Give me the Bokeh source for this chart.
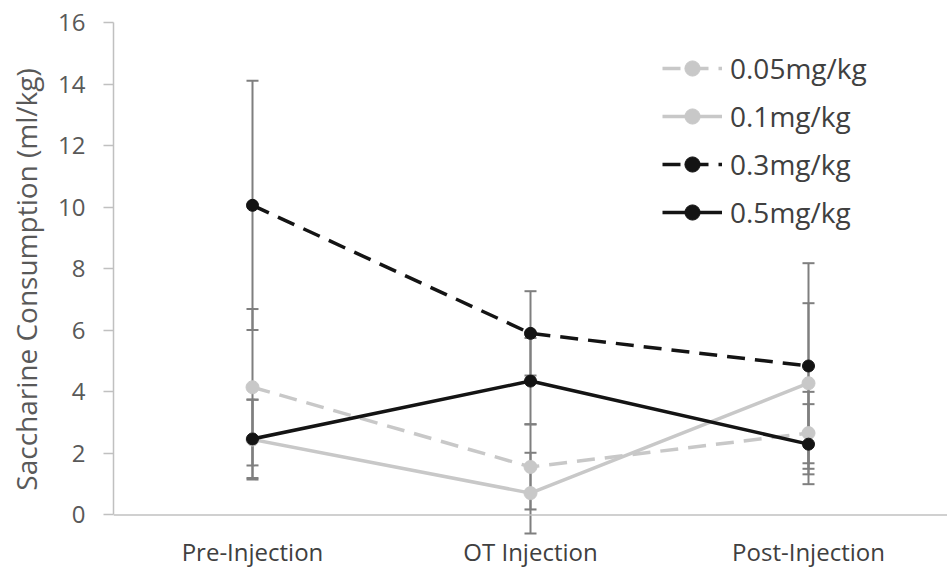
from bokeh.plotting import figure
from bokeh.models import ColumnDataSource, Whisker, TeeHead, Span, Legend, LegendItem, FactorRange
from bokeh.embed import file_html
from bokeh.resources import INLINE

categories = ["Pre-Injection", "OT Injection", "Post-Injection"]
series_names = ["0.05mg/kg", "0.1mg/kg", "0.3mg/kg", "0.5mg/kg"]
mean_005 = [4.15, 1.56, 2.66]
se_005 = [2.54, 1.38, 1.34]
mean_01 = [2.45, 0.71, 4.28]
se_01 = [1.30, 1.31, 2.60]
mean_03 = [10.06, 5.90, 4.84]
se_03 = [4.05, 1.37, 3.34]
mean_05 = [2.47, 4.35, 2.30]
se_05 = [1.27, 1.40, 1.30]
y_ticks = [0, 2, 4, 6, 8, 10, 12, 14, 16]

FONT = "Open Sans"
GRAY = "#c8c8c8"
BLACK = "#141414"
ERR = "#7f7f7f"

p = figure(width=947, height=570, x_range=FactorRange(*categories), y_range=(-0.7, 16),
           output_backend="svg", toolbar_location=None,
           min_border_left=113, min_border_right=0, min_border_top=22, min_border_bottom=33)
p.outline_line_color = None
p.xgrid.visible = False
p.ygrid.visible = False
p.background_fill_color = "white"
p.border_fill_color = "white"

# y axis
p.yaxis.bounds = (0, 16)
p.yaxis.ticker = y_ticks
p.yaxis.axis_line_color = "#c0c0c0"
p.yaxis.axis_line_width = 1.5
p.yaxis.major_tick_line_color = "#c0c0c0"
p.yaxis.major_tick_line_width = 1.5
p.yaxis.major_tick_out = 10
p.yaxis.major_tick_in = 0
p.yaxis.minor_tick_line_color = None
p.yaxis.major_label_text_font = FONT
p.yaxis.major_label_text_font_size = "24px"
p.yaxis.major_label_text_color = "#595959"
p.yaxis.major_label_standoff = 18
p.yaxis.axis_label = "Saccharine Consumption (ml/kg)"
p.yaxis.axis_label_text_font = FONT
p.yaxis.axis_label_text_font_size = "28px"
p.yaxis.axis_label_text_font_style = "normal"
p.yaxis.axis_label_text_color = "#595959"
p.yaxis.axis_label_standoff = 10

# x axis
p.xaxis.axis_line_color = None
p.xaxis.major_tick_line_color = None
p.xaxis.minor_tick_line_color = None
p.xaxis.major_label_text_font = FONT
p.xaxis.major_label_text_font_size = "24px"
p.xaxis.major_label_text_color = "#404040"
p.xaxis.major_label_standoff = -8

p.add_layout(Span(location=0, dimension="width", line_color="#c0c0c0", line_width=1.5))

series = [
    (mean_005, se_005, GRAY, "18 10", 3.5, 13),
    (mean_01, se_01, GRAY, None, 3.5, 13),
    (mean_03, se_03, BLACK, "18 10", 3.5, 12),
    (mean_05, se_05, BLACK, None, 3.5, 12),
]

items = []
for name, (m, s, col, dash, lw, ms) in zip(series_names, series):
    src = ColumnDataSource(dict(x=categories, y=m,
                                upper=[a + b for a, b in zip(m, s)],
                                lower=[a - b for a, b in zip(m, s)]))
    w = Whisker(source=src, base="x", upper="upper", lower="lower",
                line_color=ERR, line_width=2,
                upper_head=TeeHead(size=12, line_color=ERR, line_width=2),
                lower_head=TeeHead(size=12, line_color=ERR, line_width=2))
    p.add_layout(w)

for name, (m, s, col, dash, lw, ms) in zip(series_names, series):
    src = ColumnDataSource(dict(x=categories, y=m))
    kw = {}
    if dash:
        kw["line_dash"] = dash
    ln = p.line("x", "y", source=src, line_color=col, line_width=lw, **kw)
    sc = p.scatter("x", "y", source=src, size=ms, fill_color=col, line_color=col)
    items.append(LegendItem(label=name, renderers=[ln, sc]))

legend = Legend(items=items, location=(549, 305), padding=0, margin=0,
                glyph_width=60, glyph_height=38, label_height=38, spacing=10,
                label_standoff=8, border_line_color=None, background_fill_alpha=0,
                label_text_font=FONT, label_text_font_size="28px", label_text_color="#404040")
p.add_layout(legend)

open("out.html", "w").write(file_html(p, INLINE))
